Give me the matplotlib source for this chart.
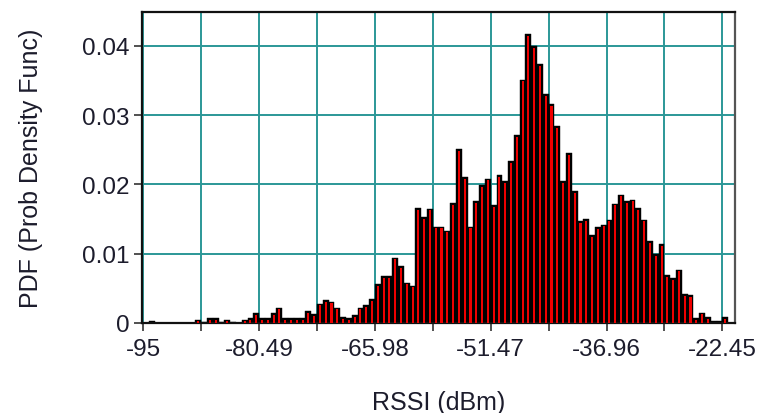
import numpy as np
import matplotlib.pyplot as plt
from matplotlib.ticker import FixedLocator, NullFormatter

plt.rcParams["font.family"] = ["Liberation Sans", "DejaVu Sans"]

# histogram of RSSI samples: 101 bins, 0.7255 dB wide, first bin starts at -95 dBm
bin_start = -95.0
bin_width = 0.7255
pdf = [
    0.0, 0.0003, 0.0, 0.0, 0.0, 0.0, 0.0, 0.0, 0.0, 0.0005,
    0.0002, 0.0007, 0.0007, 0.0002, 0.0005, 0.0002, 0.0, 0.0005, 0.0007, 0.0014,
    0.0007, 0.0007, 0.0014, 0.0022, 0.0007, 0.0007, 0.0007, 0.0007, 0.0017, 0.0013,
    0.0028, 0.0033, 0.0031, 0.0022, 0.0008, 0.0007, 0.0011, 0.0022, 0.0026, 0.0034,
    0.0056, 0.0068, 0.0068, 0.0094, 0.0082, 0.0058, 0.0054, 0.0166, 0.0153, 0.0165,
    0.0139, 0.0139, 0.0133, 0.0173, 0.0251, 0.0210, 0.0139, 0.0176, 0.0199, 0.0208,
    0.0170, 0.0213, 0.0205, 0.0233, 0.0271, 0.0351, 0.0417, 0.0399, 0.0373, 0.0330,
    0.0316, 0.0284, 0.0205, 0.0245, 0.0190, 0.0147, 0.0150, 0.0127, 0.0138, 0.0142,
    0.0149, 0.0172, 0.0185, 0.0176, 0.0178, 0.0166, 0.0149, 0.0118, 0.0099, 0.0114,
    0.0069, 0.0065, 0.0077, 0.0042, 0.0040, 0.0007, 0.0015, 0.0008, 0.0003, 0.0003,
    0.0008,
]

x_ticks = [-95, -80.49, -65.98, -51.47, -36.96, -22.45]
x_tick_labels = ["-95", "-80.49", "-65.98", "-51.47", "-36.96", "-22.45"]
y_ticks = [0, 0.01, 0.02, 0.03, 0.04]
y_tick_labels = ["0", "0.01", "0.02", "0.03", "0.04"]

GRID = "#2b9797"
TEXT = "#1c1c2c"

fig = plt.figure(figsize=(7.57, 4.14), dpi=100)
ax = fig.add_axes([0.1872, 0.2174, 0.7838, 0.7519])

left = bin_start + bin_width * np.arange(len(pdf))
heights = np.array(pdf)

# black outline bars with a thin red core, like the original plot
ax.bar(left, heights, width=bin_width, align="edge", color="black",
       edgecolor="black", linewidth=0.3, zorder=2)
inset = 0.00024
ax.bar(left + bin_width / 2, np.clip(heights - inset, 0, None),
       width=bin_width * 0.36, color="#ee0000", linewidth=0, zorder=3)

ax.set_xlim(-95.2, -20.86)
ax.set_ylim(0, 0.0449)

minor = [(a + b) / 2 for a, b in zip(x_ticks[:-1], x_ticks[1:])]
ax.xaxis.set_major_locator(FixedLocator(x_ticks))
ax.xaxis.set_minor_locator(FixedLocator(minor))
ax.xaxis.set_minor_formatter(NullFormatter())
ax.set_xticklabels(x_tick_labels)
ax.set_yticks(y_ticks)
ax.set_yticklabels(y_tick_labels)

ax.grid(True, which="both", axis="x", color=GRID, linewidth=1.4, zorder=1)
ax.grid(True, which="major", axis="y", color=GRID, linewidth=1.4, zorder=1)
ax.set_axisbelow(True)

ax.tick_params(which="both", direction="out", length=6, width=1.1,
               color="#222222", labelsize=17.5, labelcolor=TEXT)
ax.tick_params(axis="x", which="both", pad=4.5)
ax.tick_params(axis="y", pad=3)

for side in ("left", "top", "bottom"):
    ax.spines[side].set_color("#111111")
    ax.spines[side].set_linewidth(1.6)
ax.spines["right"].set_color("#555555")
ax.spines["right"].set_linewidth(1.6)

ax.set_xlabel("RSSI (dBm)", fontsize=18, color=TEXT, labelpad=22)
ax.set_ylabel("PDF (Prob Density Func)", fontsize=18, color=TEXT, labelpad=28)

fig.savefig("out.png", dpi=100)
plt.close(fig)
